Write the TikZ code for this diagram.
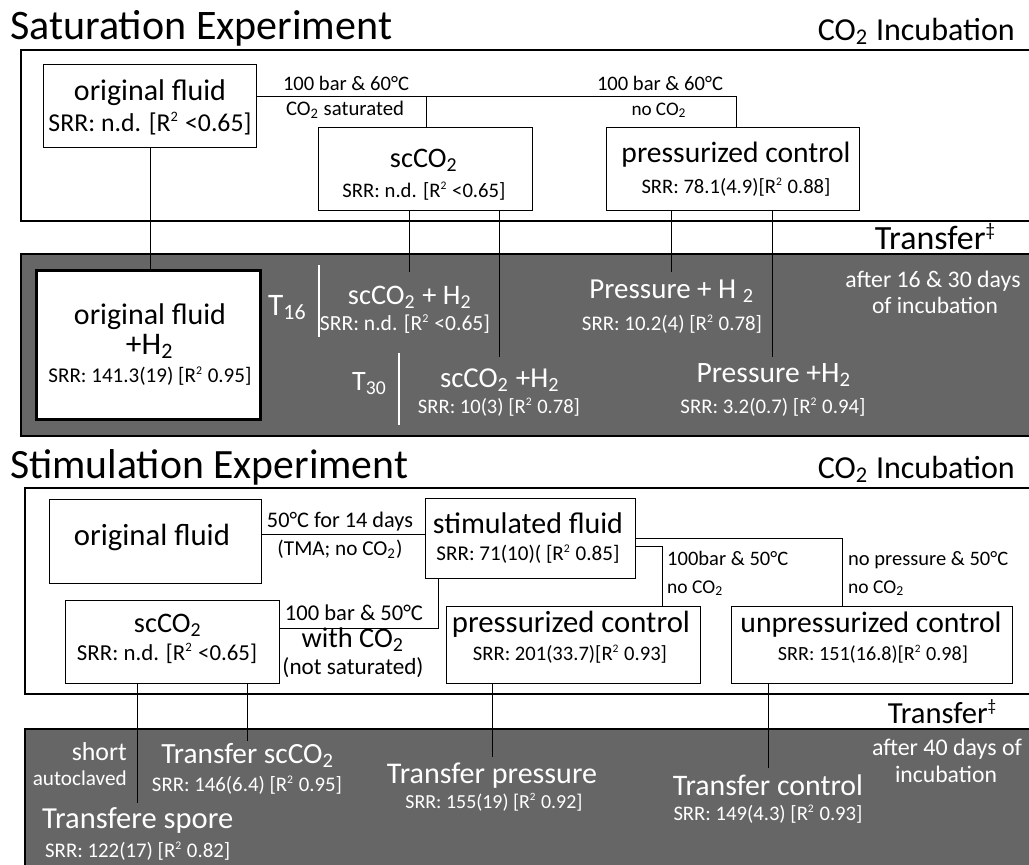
\documentclass[tikz,border=0pt]{standalone}
\usepackage{fontspec}
\setmainfont{Carlito}
\usepackage{graphicx}
\newcommand\fw[2]{\resizebox{#1pt}{!}{#2}}
\newcommand\subsc[1]{\textsubscript{#1}}
\newcommand\supsc[1]{\textsuperscript{\scalebox{0.8}{#1}}}
\definecolor{panelgray}{RGB}{102,102,102}
\begin{document}
\begin{tikzpicture}[x=1pt,y=-1pt,
  box/.style={draw=black, line width=1.3pt, fill=white, inner sep=0pt, anchor=north west},
  thickbox/.style={box, line width=2.6pt},
  panel/.style={draw=black, line width=1.3pt},
  conn/.style={draw=black, line width=1pt},
  sep/.style={draw=white, line width=1.3pt},
  bt/.style={text=black, inner sep=0pt},
  wt/.style={text=white, inner sep=0pt}]
\useasboundingbox (0,0) rectangle (1029,865);
\clip (0,0) rectangle (1029,865);
\fill[white] (0,0) rectangle (1029,865);

% ---------------- Saturation experiment ----------------
\node[bt, anchor=base west] (ttl1) at (10,39) {\fw{382}{Saturation Experiment}};
\node[bt, anchor=base east] (inc1) at (1015,40) {\fw{197}{CO\subsc{2} Incubation}};
\path[panel, fill=white] (21,50) rectangle (1045,221);
\node[bt, anchor=base east] (tr1) at (997,249) {\fw{122}{Transfer\supsc{‡}}};
\path[panel, fill=panelgray] (21,254) rectangle (1045,436);

\node[box, minimum width=213pt, minimum height=83pt] (of1) at (43,64) {};
\node[box, minimum width=214pt, minimum height=83pt] (sc1) at (318,127) {};
\node[box, minimum width=253pt, minimum height=83pt] (pc1) at (606,127) {};
\node[thickbox, minimum width=224pt, minimum height=149pt] (ofh) at (35,269) {};

\coordinate (a16) at (409,272);
\coordinate (a30) at (499,357);
\coordinate (p16) at (671,272);
\coordinate (p30) at (772,357);

\draw[conn] ([yshift=9.5pt]of1.east) -| ([xshift=1pt]sc1.north);
\draw[conn] ([yshift=9.5pt]of1.east) -| ([xshift=3.5pt]pc1.north);
\draw[conn] (of1.south) -- (of1.south |- ofh.north);
\draw[conn] (a16 |- sc1.south) -- (a16);
\draw[conn] (a30 |- sc1.south) -- (a30);
\draw[conn] (p16 |- pc1.south) -- (p16);
\draw[conn] (p30 |- pc1.south) -- (p30);

\node[bt, anchor=base] (of1a) at (150,100) {\fw{152}{original fluid}};
\node[bt, anchor=base] (of1b) at (150,131) {\fw{203}{SRR: n.d. [R\supsc{2} <0.65]}};
\node[bt, anchor=base] (l1a) at (346,90) {\fw{126}{100 bar \& 60°C}};
\node[bt, anchor=base] (l1b) at (345,115) {\fw{118}{CO\subsc{2} saturated}};
\node[bt, anchor=base] (sc1a) at (424,167) {\fw{68}{scCO\subsc{2}}};
\node[bt, anchor=base] (sc1b) at (424,197) {\fw{163}{SRR: n.d. [R\supsc{2} <0.65]}};
\node[bt, anchor=base] (l2a) at (660,90) {\fw{126}{100 bar \& 60°C}};
\node[bt, anchor=base] (l2b) at (659,115) {\fw{55}{no CO\subsc{2}}};
\node[bt, anchor=base] (pc1a) at (736,162) {\fw{229}{pressurized control}};
\node[bt, anchor=base] (pc1b) at (736,193) {\fw{189}{SRR: 78.1(4.9)[R\supsc{2} 0.88]}};

\node[bt, anchor=base] (ofha) at (150,324) {\fw{152}{original fluid}};
\node[bt, anchor=base] (ofhb) at (150,354) {\fw{48}{+H\subsc{2}}};
\node[bt, anchor=base] (ofhc) at (150,382) {\fw{203}{SRR: 141.3(19) [R\supsc{2} 0.95]}};

\node[wt, anchor=base west] (t16) at (268,315) {\fw{39}{T\subsc{16}}};
\draw[sep] (319,265) -- (319,337);
\node[wt, anchor=base] (s16a) at (410,304) {\fw{124}{scCO\subsc{2} + H\subsc{2}}};
\node[wt, anchor=base] (s16b) at (405,330) {\fw{170}{SRR: n.d. [R\supsc{2} <0.65]}};
\node[wt, anchor=base west] (t30) at (352,390) {\fw{35}{T\subsc{30}}};
\draw[sep] (399,353) -- (399,425);
\node[wt, anchor=base] (s30a) at (500,387) {\fw{120}{scCO\subsc{2} +H\subsc{2}}};
\node[wt, anchor=base] (s30b) at (499,413) {\fw{162}{SRR: 10(3) [R\supsc{2} 0.78]}};
\node[wt, anchor=base] (p16a) at (672,298) {\fw{165}{Pressure + H \subsc{2}}};
\node[wt, anchor=base] (p16b) at (672,330) {\fw{180}{SRR: 10.2(4) [R\supsc{2} 0.78]}};
\node[wt, anchor=base] (p30a) at (774,382) {\fw{155}{Pressure +H\subsc{2}}};
\node[wt, anchor=base] (p30b) at (773,413) {\fw{185}{SRR: 3.2(0.7) [R\supsc{2} 0.94]}};
\node[wt, anchor=base] (af1a) at (933,287) {\fw{175}{after 16 \& 30 days}};
\node[wt, anchor=base] (af1b) at (935,313) {\fw{126}{of incubation}};

% ---------------- Stimulation experiment ----------------
\node[bt, anchor=base west] (ttl2) at (10,478) {\fw{398}{Stimulation Experiment}};
\node[bt, anchor=base east] (inc2) at (1015,478) {\fw{197}{CO\subsc{2} Incubation}};
\path[panel, fill=white] (25,488) rectangle (1045,694);
\node[bt, anchor=base east] (tr2) at (998,723) {\fw{110}{Transfer\supsc{‡}}};
\path[panel, fill=panelgray] (25,729) rectangle (1045,880);

\node[box, minimum width=212pt, minimum height=84pt] (of2) at (49,499) {};
\node[box, minimum width=210pt, minimum height=80pt] (sf) at (425,498) {};
\node[box, minimum width=214pt, minimum height=83pt] (sc2) at (65,600) {};
\node[box, minimum width=254pt, minimum height=77pt] (pc2) at (446,606) {};
\node[box, minimum width=281pt, minimum height=77pt] (up2) at (731,606) {};

\coordinate (b1) at (137,803);
\coordinate (b2) at (247,741);
\coordinate (b3) at (492,757);
\coordinate (b4) at (768,768);

\draw[conn] ([yshift=7pt]of2.east) -- ([yshift=7pt]of2.east -| sf.west);
\draw[conn] ([xshift=-92pt]sf.south) |- ([yshift=13.5pt]sc2.east);
\draw[conn] ([yshift=-8pt]sf.east) -| ([xshift=89pt]pc2.north);
\draw[conn] (sf.east) -| ([xshift=-29.5pt]up2.north);
\draw[conn] (b1 |- sc2.south) -- (b1);
\draw[conn] (b2 |- sc2.south) -- (b2);
\draw[conn] (b3 |- pc2.south) -- (b3);
\draw[conn] (b4 |- up2.south) -- (b4);

\node[bt, anchor=base] (of2a) at (152,545) {\fw{156}{original fluid}};
\node[bt, anchor=base] (m1a) at (340,527) {\fw{146}{50°C for 14 days}};
\node[bt, anchor=base] (m1b) at (340,555) {\fw{125}{(TMA; no CO\subsc{2})}};
\node[bt, anchor=base] (sfa) at (528,533) {\fw{190}{stimulated fluid}};
\node[bt, anchor=base] (sfb) at (528,560) {\fw{183}{SRR: 71(10)( [R\supsc{2} 0.85]}};
\node[bt, anchor=base] (m2a) at (354,620) {\fw{138}{100 bar \& 50°C}};
\node[bt, anchor=base] (m2b) at (353,647) {\fw{103}{with CO\subsc{2}}};
\node[bt, anchor=base] (m2c) at (353,674) {\fw{141}{(not saturated)}};
\node[bt, anchor=base] (sc2a) at (168,632) {\fw{68}{scCO\subsc{2}}};
\node[bt, anchor=base] (sc2b) at (167,660) {\fw{180}{SRR: n.d. [R\supsc{2} <0.65]}};
\node[bt, anchor=base] (pc2a) at (571,632) {\fw{238}{pressurized control}};
\node[bt, anchor=base] (pc2b) at (570,660) {\fw{194}{SRR: 201(33.7)[R\supsc{2} 0.93]}};
\node[bt, anchor=base] (up2a) at (871,632) {\fw{261}{unpressurized control}};
\node[bt, anchor=base] (up2b) at (873,660) {\fw{190}{SRR: 151(16.8)[R\supsc{2} 0.98]}};
\node[bt, anchor=base west] (m3a) at (667,565) {\fw{121}{100bar \& 50°C}};
\node[bt, anchor=base west] (m3b) at (667,593) {\fw{56}{no CO\subsc{2}}};
\node[bt, anchor=base west] (m4a) at (848,565) {\fw{160}{no pressure \& 50°C}};
\node[bt, anchor=base west] (m4b) at (848,593) {\fw{56}{no CO\subsc{2}}};

\node[wt, anchor=base east] (sha) at (127,760) {\fw{55}{short}};
\node[wt, anchor=base east] (shb) at (127,785) {\fw{94}{autoclaved}};
\node[wt, anchor=base] (tsa) at (248,763) {\fw{173}{Transfer scCO\subsc{2}}};
\node[wt, anchor=base] (tsb) at (247,791) {\fw{190}{SRR: 146(6.4) [R\supsc{2} 0.95]}};
\node[wt, anchor=base west] (tpa) at (42,828) {\fw{191}{Transfere spore}};
\node[wt, anchor=base west] (tpb) at (45,857) {\fw{185}{SRR: 122(17) [R\supsc{2} 0.82]}};
\node[wt, anchor=base] (tra) at (492,783) {\fw{210}{Transfer pressure}};
\node[wt, anchor=base] (trb) at (494,808) {\fw{177}{SRR: 155(19) [R\supsc{2} 0.92]}};
\node[wt, anchor=base] (tca) at (768,795) {\fw{190}{Transfer control}};
\node[wt, anchor=base] (tcb) at (768,820) {\fw{189}{SRR: 149(4.3) [R\supsc{2} 0.93]}};
\node[wt, anchor=base] (af2a) at (947,755) {\fw{150}{after 40 days of}};
\node[wt, anchor=base] (af2b) at (946,782) {\fw{102}{incubation}};
\end{tikzpicture}
\end{document}
